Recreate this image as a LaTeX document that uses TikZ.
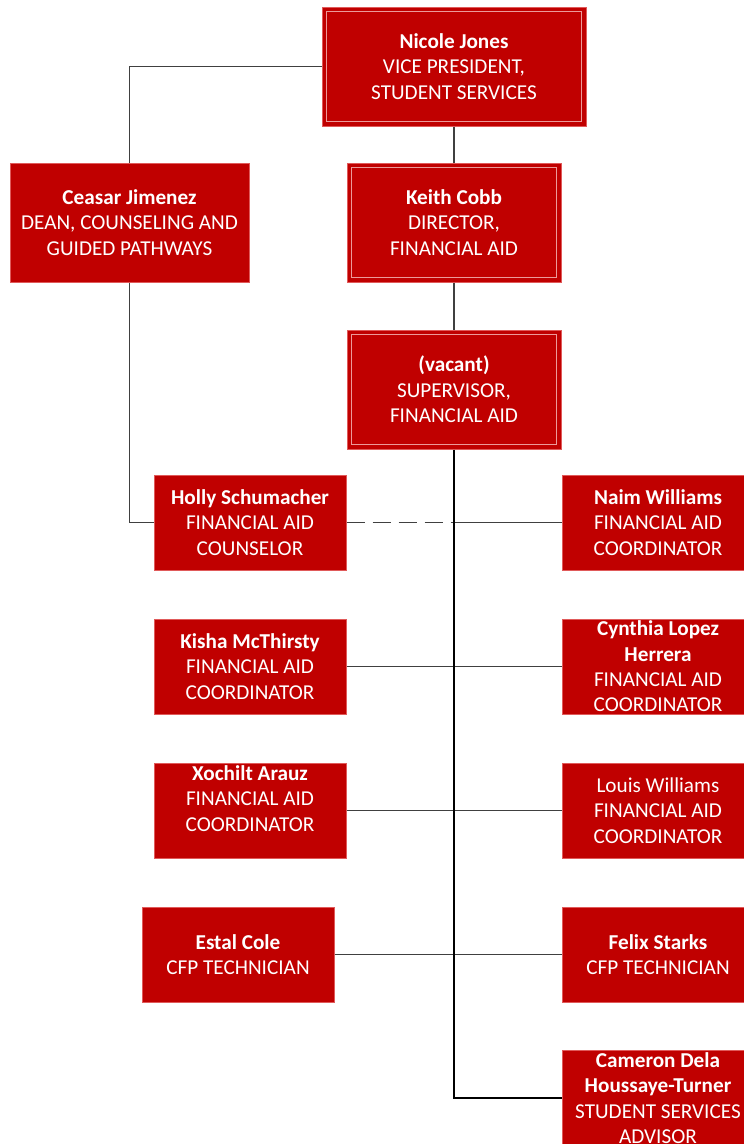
\documentclass[tikz,border=0pt]{standalone}
\usepackage{fontspec}
\setmainfont{Carlito}
\usetikzlibrary{calc}
\definecolor{boxred}{HTML}{C00000}
\definecolor{boxedge}{HTML}{E05A5A}
\definecolor{inneredge}{HTML}{EC9A9A}
\definecolor{wire}{HTML}{404040}
\begin{document}
\begin{tikzpicture}[x=1pt,y=-1pt,
  box/.style={draw=boxedge, line width=1pt, fill=boxred, inner sep=0pt},
  wide/.style={box, minimum width=192pt, minimum height=95pt},
  txt/.style={text=white, align=center, inner sep=0pt, font=\fontsize{21.2}{25.4}\selectfont},
  wire/.style={draw=wire, line width=1.9pt},
  trunk/.style={draw=black, line width=2.1pt},
  inner/.style={draw=inneredge, line width=0.9pt}]
\clip (0,0) rectangle (744,1144);
\fill[white] (0,0) rectangle (744,1144);

% boxes
\node[box, minimum width=264pt, minimum height=119pt] (nicole) at (454,66.5) {};
\node[box, minimum width=239pt, minimum height=119pt] (ceasar) at (129.5,222.5) {};
\node[box, minimum width=214pt, minimum height=119pt] (keith) at (454,222.5) {};
\node[box, minimum width=214pt, minimum height=119pt] (vacant) at (454,389.5) {};
\node[wide] (holly) at (250,522.5) {};
\node[wide] (naim) at (658,522.5) {};
\node[wide] (kisha) at (250,666.5) {};
\node[wide] (cynthia) at (658,666.5) {};
\node[wide] (xochilt) at (250,810.5) {};
\node[wide] (louis) at (658,810.5) {};
\node[wide] (estal) at (238,954.5) {};
\node[wide] (felix) at (658,954.5) {};
\node[wide] (cameron) at (658,1098) {};

% inner frames of double boxes
\foreach \b in {nicole,keith,vacant}
  \draw[inner] ($(\b.south west)+(5,-5)$) rectangle ($(\b.north east)+(-5,5)$);

% texts
\node[txt] (tnicole) at (nicole.center) {{\bfseries Nicole Jones}\\VICE PRESIDENT,\\STUDENT SERVICES};
\node[txt] (tceasar) at (ceasar.center) {{\bfseries Ceasar Jimenez}\\DEAN, COUNSELING AND\\GUIDED PATHWAYS};
\node[txt] (tkeith) at (keith.center) {{\bfseries Keith Cobb}\\DIRECTOR,\\FINANCIAL AID};
\node[txt] (tvacant) at (vacant.center) {{\bfseries (vacant)}\\SUPERVISOR,\\FINANCIAL AID};
\node[txt] (tholly) at (holly.center) {{\bfseries Holly Schumacher}\\FINANCIAL AID\\COUNSELOR};
\node[txt] (tnaim) at (naim.center) {{\bfseries Naim Williams}\\FINANCIAL AID\\COORDINATOR};
\node[txt] (tkisha) at (kisha.center) {{\bfseries Kisha McThirsty}\\FINANCIAL AID\\COORDINATOR};
\node[txt] (tcynthia) at (cynthia.center) {{\bfseries Cynthia Lopez}\\{\bfseries Herrera}\\FINANCIAL AID\\COORDINATOR};
\node[txt] (txochilt) at ($(xochilt.center)+(0,-12)$) {{\bfseries Xochilt Arauz}\\FINANCIAL AID\\COORDINATOR};
\node[txt] (tlouis) at (louis.center) {Louis Williams\\FINANCIAL AID\\COORDINATOR};
\node[txt] (testal) at (estal.center) {{\bfseries Estal Cole}\\CFP TECHNICIAN};
\node[txt] (tfelix) at (felix.center) {{\bfseries Felix Starks}\\CFP TECHNICIAN};
\node[txt] (tcameron) at (cameron.center) {{\bfseries Cameron Dela}\\{\bfseries Houssaye-Turner}\\STUDENT SERVICES\\ADVISOR};

% connectors
\draw[wire] (nicole.west) -| (ceasar.north);
\draw[wire] (nicole.south) -- (keith.north);
\draw[wire] (keith.south) -- (vacant.north);
\draw[wire] (ceasar.south) |- (holly.west);
\coordinate (jholly) at (vacant.south |- holly.east);
\draw[wire, dash pattern=on 18pt off 8pt] (holly.east) -- (jholly);
\draw[wire] (jholly) -- (naim.west);
\draw[wire] (kisha.east) -- (cynthia.west);
\draw[wire] (xochilt.east) -- (louis.west);
\draw[wire] (estal.east) -- (felix.west);
\draw[trunk] (vacant.south) |- (cameron.west);
\end{tikzpicture}
\end{document}
